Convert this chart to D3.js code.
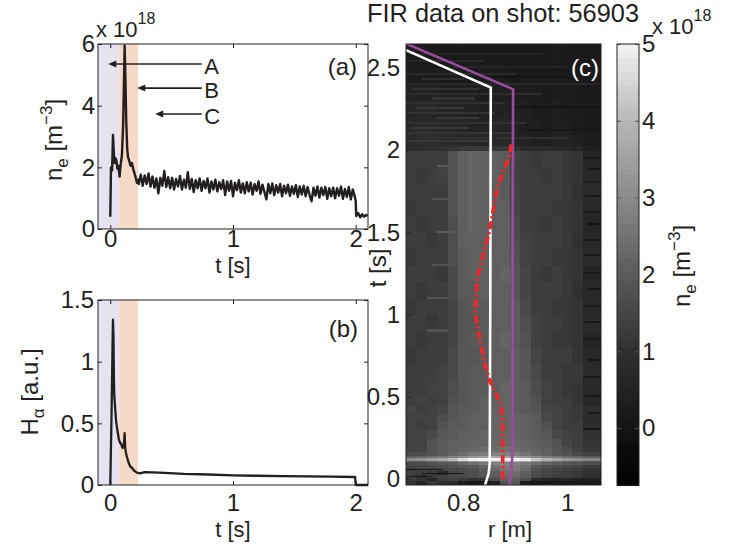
<!DOCTYPE html>
<html>
<head>
<meta charset="utf-8">
<title>FIR data on shot 56903</title>
<script src="https://d3js.org/d3.v7.min.js"></script>
<style>
  body { margin: 0; background: #fff; }
  svg { font-family: "Liberation Sans", Arial, Helvetica, sans-serif; }
  .tick text { font-size: 24px; font-family: "Liberation Sans", Arial, Helvetica, sans-serif; fill: #231f20; }
  .lbl { font-size: 24px; fill: #231f20; }
  .ttl { font-size: 22px; fill: #231f20; }
</style>
</head>
<body>
<svg id="fig" width="734" height="545"></svg>
<script>
// ---- data ----
// (a) line-averaged density, 1e18 m^-3
var neEarly = [[0.000,0.40],[0.006,2.00],[0.015,1.90],[0.022,3.05],[0.030,2.40],[0.035,2.14],
  [0.042,2.30],[0.050,2.22],[0.058,1.95],[0.066,2.05],[0.076,1.70],[0.085,2.10],[0.095,2.40],
  [0.105,3.40],[0.117,5.95],[0.124,4.80],[0.130,3.50],[0.138,2.60],[0.144,2.35],[0.155,2.20],
  [0.165,2.05],[0.176,2.14],[0.190,1.90],[0.205,1.70],[0.217,1.50],[0.226,1.60]]
var neNoise = [[0.232,1.46],[0.248,1.76],[0.264,1.40],[0.280,1.74],[0.296,1.46],[0.312,1.80],
  [0.328,1.38],[0.344,1.70],[0.360,1.34],[0.376,1.64],[0.392,1.16],[0.408,1.66],[0.424,1.40],
  [0.440,1.88],[0.456,1.36],[0.472,1.68],[0.488,1.32],[0.504,1.66],[0.520,1.28],[0.536,1.62],
  [0.552,1.38],[0.568,1.72],[0.584,1.28],[0.600,1.60],[0.616,1.34],[0.632,1.84],[0.648,1.30],
  [0.664,1.62],[0.680,1.20],[0.696,1.58],[0.712,1.32],[0.728,1.64],[0.744,1.24],[0.760,1.56],
  [0.776,1.32],[0.792,1.64],[0.808,1.18],[0.824,1.54],[0.840,1.28],[0.856,1.60],[0.872,1.22],
  [0.888,1.52],[0.904,1.30],[0.920,1.58],[0.936,1.10],[0.952,1.54],[0.968,1.24],[0.984,1.56],
  [1.000,1.06],[1.016,1.50],[1.032,1.26],[1.048,1.58],[1.064,1.18],[1.080,1.48],[1.096,1.16],
  [1.112,1.52],[1.128,1.22],[1.144,1.50],[1.160,1.12],[1.176,1.46],[1.192,1.24],[1.208,1.54],
  [1.224,1.14],[1.240,1.44],[1.256,1.20],[1.272,0.96],[1.288,1.46],[1.304,1.16],[1.320,1.48],
  [1.336,1.10],[1.352,1.42],[1.368,1.18],[1.384,1.46],[1.400,1.06],[1.416,1.40],[1.432,1.16],
  [1.448,1.44],[1.464,1.08],[1.480,1.38],[1.496,1.14],[1.512,1.42],[1.528,1.04],[1.544,1.38],
  [1.560,1.12],[1.576,1.40],[1.592,1.06],[1.608,1.36],[1.624,1.10],[1.640,0.90],[1.656,1.34],
  [1.672,1.08],[1.688,1.38],[1.704,1.02],[1.720,1.34],[1.736,1.10],[1.752,1.36],[1.768,0.98],
  [1.784,1.32],[1.800,1.06],[1.816,1.34],[1.832,1.00],[1.848,1.32],[1.864,1.08],[1.880,1.38],
  [1.896,0.98],[1.912,1.30],[1.928,1.04],[1.944,1.36],[1.960,0.96],[1.976,1.28],[1.992,1.06],
  [2.000,0.90],[2.004,0.42],[2.020,0.52],[2.036,0.38],[2.052,0.48],[2.068,0.40],[2.084,0.46],
  [2.096,0.42]]

// (b) H-alpha, a.u.
var haTrace = [[0.000,0.00],[0.010,0.55],[0.018,1.10],[0.022,1.34],[0.026,1.20],[0.030,0.85],
  [0.033,0.72],[0.040,0.62],[0.047,0.52],[0.054,0.47],[0.062,0.42],[0.070,0.37],[0.081,0.34],
  [0.090,0.33],[0.100,0.30],[0.108,0.31],[0.113,0.36],[0.117,0.42],[0.122,0.30],[0.128,0.26],
  [0.138,0.22],[0.150,0.18],[0.163,0.15],[0.176,0.14],[0.195,0.115],[0.217,0.10],[0.240,0.095],
  [0.280,0.105],[0.400,0.10],[0.600,0.09],[0.800,0.085],[1.000,0.078],[1.200,0.075],
  [1.400,0.072],[1.600,0.07],[1.800,0.068],[1.995,0.065],[2.000,0.0],[2.100,0.0]]

// shaded phases and arrows in (a)
var phaseEdges = [-0.1, 0.072, 0.227]
var arrowLabels = ["A", "B", "C"]
var arrowLevel = [5.35, 4.57, 3.73]
var arrowTip = [-0.016, 0.22, 0.366]
var arrowTail = 0.745

// (c) FIR profile map, 1e18 m^-3 ; rows bottom -> top
var rEdges = [0.69,0.71,0.73,0.75,0.77,0.79,0.81,0.83,0.85,0.87,0.89,0.91,0.93,0.95,0.97,0.99,1.01,1.03,1.065]
var tEdges = [-0.035,-0.01,0.01,0.03,0.05,0.07,0.09,0.105,0.115,0.13,0.145,0.165,0.2,0.25,0.3,0.35,0.4,
  0.45,0.5,0.6,0.7,0.8,0.9,1.0,1.1,1.2,1.3,1.4,1.5,1.6,1.7,1.8,1.9,2.0,2.03,2.1,2.2,2.3,2.4,2.5,2.645]
var neMap = [
  [1.1,0.6,1.2,0.9,0.9,0.2,0.1,0.1,0.4,1.8,1.9,0.3,0.2,0.1,0.2,0.1,0.2,0.1],
  [1.3,1.1,0.6,1.3,1.4,1.2,1.0,1.1,1.7,2.1,2.1,1.7,0.7,0.6,0.5,0.6,0.4,0.4],
  [1.3,0.8,1.3,1.4,1.5,1.6,1.7,1.8,2.0,2.3,2.3,2.0,1.6,1.4,1.3,1.3,1.2,0.9],
  [1.4,1.3,1.2,0.7,1.5,1.6,1.7,1.9,2.1,2.4,2.4,2.1,1.7,1.5,1.4,1.3,1.2,1.0],
  [1.3,1.4,1.4,1.5,1.6,1.7,1.8,2.0,2.3,2.6,2.6,2.3,1.8,1.6,1.5,1.4,1.3,1.1],
  [1.5,1.5,1.6,1.7,1.8,1.9,2.0,2.2,2.5,2.7,2.7,2.4,2.0,1.8,1.7,1.6,1.5,1.3],
  [1.6,1.7,1.8,1.9,2.0,2.2,2.4,2.6,2.8,2.9,2.8,2.6,2.4,2.2,2.0,1.9,1.8,1.7],
  [2.0,2.1,2.3,2.5,2.7,3.0,3.3,3.6,3.8,3.9,3.8,3.5,3.1,2.8,2.5,2.3,2.2,2.0],
  [3.0,3.2,3.4,3.7,4.1,4.6,5.0,5.0,5.0,5.0,5.0,4.8,4.3,3.9,3.6,3.3,3.1,2.9],
  [2.1,2.2,2.4,2.6,2.8,3.0,3.3,3.5,3.6,3.6,3.5,3.3,3.0,2.7,2.5,2.3,2.2,2.0],
  [1.6,1.7,1.8,2.0,2.2,2.4,2.6,2.7,2.8,2.8,2.7,2.5,2.3,2.1,1.9,1.8,1.6,1.4],
  [1.4,1.5,1.8,2.0,2.1,2.2,2.3,2.4,2.4,2.5,2.4,2.3,2.2,2.1,1.9,1.7,1.4,1.2],
  [1.4,1.4,1.8,2.0,2.1,2.1,2.2,2.2,2.3,2.3,2.3,2.2,2.1,2.0,1.8,1.5,1.3,1.1],
  [1.4,1.4,1.6,1.9,2.0,2.1,2.1,2.2,2.2,2.3,2.2,2.1,2.0,1.9,1.6,1.4,1.3,1.0],
  [1.4,1.3,1.4,1.8,2.0,2.0,2.1,2.1,2.2,2.2,2.2,2.1,2.0,1.8,1.4,1.3,1.3,0.9],
  [1.4,1.4,1.4,1.7,1.9,2.0,2.1,2.1,2.2,2.2,2.2,2.1,2.0,1.6,1.4,1.3,1.2,0.8],
  [1.5,1.3,1.4,1.5,1.9,2.0,2.0,2.1,2.2,2.2,2.1,2.0,1.9,1.5,1.4,1.3,1.2,0.9],
  [1.3,1.4,1.3,1.4,1.8,1.9,2.0,2.1,2.1,2.2,2.1,2.0,1.8,1.4,1.3,1.3,1.1,0.7],
  [1.3,1.3,1.4,1.4,1.7,1.9,2.0,2.0,2.1,2.2,2.1,2.0,1.7,1.4,1.3,1.2,1.1,0.7],
  [1.3,1.3,1.3,1.4,1.6,1.9,2.0,2.0,2.1,2.1,2.1,1.9,1.6,1.3,1.3,1.2,1.2,0.8],
  [1.2,1.3,1.3,1.3,1.6,1.9,1.9,2.0,2.1,2.1,2.1,1.9,1.5,1.3,1.3,1.3,1.1,0.7],
  [1.3,1.2,1.3,1.3,1.5,1.9,2.0,2.0,2.1,2.2,2.0,1.8,1.4,1.3,1.2,1.2,1.1,0.6],
  [1.3,1.3,1.2,1.3,1.5,1.9,1.9,2.0,2.1,2.1,2.0,1.7,1.4,1.3,1.3,1.2,1.1,0.8],
  [1.2,1.3,1.3,1.3,1.5,1.9,2.0,2.0,2.1,2.1,2.0,1.6,1.3,1.3,1.2,1.2,1.1,0.7],
  [1.3,1.2,1.3,1.3,1.6,2.0,2.0,2.1,2.1,2.1,1.9,1.5,1.3,1.3,1.3,1.2,1.0,0.7],
  [1.3,1.3,1.3,1.2,1.6,2.0,2.1,2.1,2.1,2.2,1.9,1.5,1.3,1.2,1.3,1.2,1.1,0.6],
  [1.2,1.3,1.3,1.3,1.7,2.0,2.1,2.1,2.1,2.1,1.8,1.4,1.3,1.3,1.2,1.2,1.1,0.8],
  [1.3,1.3,1.2,1.3,1.7,2.1,2.1,2.1,2.1,2.1,1.7,1.4,1.3,1.3,1.3,1.2,1.0,0.7],
  [1.3,1.2,1.3,1.3,1.7,2.1,2.2,2.1,2.1,2.1,1.6,1.3,1.3,1.2,1.3,1.2,1.1,0.6],
  [1.2,1.3,1.3,1.3,1.8,2.1,2.2,2.1,2.1,2.1,1.5,1.3,1.3,1.3,1.2,1.2,1.1,0.7],
  [1.3,1.3,1.3,1.3,1.8,2.1,2.2,2.1,2.1,2.0,1.5,1.3,1.3,1.3,1.3,1.2,1.0,0.8],
  [1.3,1.2,1.3,1.4,1.8,2.1,2.2,2.1,2.1,2.0,1.4,1.3,1.3,1.2,1.3,1.2,1.1,0.7],
  [1.3,1.3,1.3,1.3,1.8,2.1,2.2,2.1,2.1,2.0,1.4,1.3,1.2,1.3,1.3,1.2,1.1,0.6],
  [0.9,0.9,1.0,1.0,1.1,1.2,1.2,1.2,1.2,1.2,1.0,0.8,0.8,0.8,0.7,0.7,0.6,0.4],
  [0.8,0.9,0.9,0.8,0.8,0.7,0.7,0.6,0.7,0.7,0.6,0.5,0.4,0.4,0.5,0.5,0.4,0.3],
  [0.7,0.8,0.8,0.7,0.7,0.6,0.5,0.5,0.6,0.6,0.5,0.4,0.4,0.3,0.4,0.4,0.3,0.2],
  [0.6,0.7,0.7,0.6,0.6,0.5,0.5,0.4,0.5,0.5,0.4,0.4,0.3,0.3,0.4,0.3,0.3,0.2],
  [0.5,0.5,0.5,0.4,0.4,0.4,0.4,0.3,0.4,0.4,0.3,0.3,0.3,0.2,0.3,0.3,0.2,0.2],
  [0.3,0.3,0.3,0.3,0.3,0.3,0.2,0.3,0.3,0.3,0.2,0.2,0.2,0.2,0.2,0.2,0.2,0.2],
  [0.3,0.2,0.2,0.2,0.2,0.2,0.2,0.2,0.2,0.2,0.2,0.2,0.2,0.2,0.3,0.2,0.2,0.2]
]
// thin horizontal streaks on top of the map: [t0, t1, r0, r1, value]
var streaks = [
  [2.58,2.59,0.70,0.95,0.6],[2.54,2.55,0.69,0.84,0.7],[2.50,2.51,0.78,1.0,0.6],[2.46,2.47,0.69,0.9,0.8],
  [2.43,2.44,0.72,0.80,0.9],[2.40,2.41,0.69,1.06,0.7],[2.37,2.38,0.70,0.83,1.0],[2.34,2.35,0.69,0.95,0.9],
  [2.31,2.32,0.74,0.82,1.1],[2.28,2.29,0.69,0.88,1.0],[2.25,2.26,0.71,0.80,1.2],[2.22,2.23,0.69,0.86,1.1],
  [2.19,2.20,0.75,0.83,1.2],[2.16,2.17,0.69,0.92,1.0],[2.13,2.14,0.70,0.81,1.2],[2.10,2.11,0.69,0.90,1.1],
  [2.07,2.08,0.72,1.0,1.0],[2.05,2.06,0.69,0.85,1.2],[2.44,2.45,0.86,1.0,0.0],[2.26,2.27,0.90,1.065,0.0],
  [2.12,2.13,0.92,1.065,0.1],
  [1.95,1.96,1.03,1.065,0.2],[1.88,1.89,1.04,1.065,0.1],[1.80,1.81,1.03,1.065,0.3],[1.72,1.73,1.035,1.065,0.1],
  [1.62,1.63,1.03,1.065,0.2],[1.55,1.56,1.04,1.065,0.0],[1.45,1.46,1.03,1.065,0.3],[1.36,1.37,1.035,1.065,0.1],
  [1.25,1.26,1.03,1.065,0.2],[1.15,1.16,1.04,1.065,0.1],[1.05,1.06,1.03,1.065,0.2],[0.95,0.96,1.035,1.065,0.1],
  [0.85,0.86,1.03,1.065,0.3],[0.72,0.73,1.04,1.065,0.1],[0.62,0.63,1.03,1.065,0.2],[0.50,0.51,1.035,1.065,0.1],
  [0.40,0.41,1.04,1.065,0.2],[0.30,0.31,1.03,1.065,0.1],
  [1.90,1.91,0.75,0.78,1.9],[1.70,1.71,0.74,0.78,1.8],[1.50,1.51,0.75,0.79,1.9],[1.30,1.31,0.74,0.78,1.8],
  [1.10,1.11,0.73,0.77,1.8],[0.90,0.91,0.73,0.77,1.8],
  [0.06,0.065,0.69,0.76,0.3],[0.035,0.04,0.72,0.80,0.2],[0.015,0.02,0.69,0.74,0.3]
]
// overlaid traces on (c): [r, t]
var whiteLine = [[0.842,-0.035],[0.849,0.036],[0.851,0.1],[0.852,1.0],[0.853,2.38],[0.69,2.608]]
var purpleLine = [[0.888,-0.035],[0.893,0.055],[0.895,0.2],[0.895,1.5],[0.896,2.37],[0.69,2.647]]
var redLine = [[0.876,0.0],[0.876,0.36],[0.872,0.46],[0.851,0.6],[0.840,0.72],[0.823,1.01],
  [0.8275,1.23],[0.850,1.5],[0.866,1.78],[0.8885,1.96],[0.893,2.04]]

var xTicks = [0, 1, 2]
var neTicks = [0, 2, 4, 6]
var haTicks = [0, 0.5, 1, 1.5]
var rTicks = [0.8, 1]
var tTicks = [0, 0.5, 1, 1.5, 2, 2.5]
var cbTicks = [0, 1, 2, 3, 4, 5]

// ---- drawing ----
var ink = "#231f20"
var svg = d3.select("#fig")
var fmt = function(d){ return String(d) }

var xA = d3.scaleLinear().domain([-0.1, 2.1]).range([98, 368])
var yA = d3.scaleLinear().domain([0, 6]).range([229, 44])
var yB = d3.scaleLinear().domain([0, 1.5]).range([485, 300])
var xC = d3.scaleLinear().domain([0.69, 1.065]).range([406, 601])
var yC = d3.scaleLinear().domain([-0.035, 2.645]).range([485, 44])
var yCb = d3.scaleLinear().domain([-0.74, 5]).range([485, 44])

var gray = d3.scaleLinear()
    .domain([-0.74, 0, 1, 2, 3, 4, 5])
    .range(["#000000", "#141414", "#303030", "#5a5a5a", "#8a8a8a", "#b6b6b6", "#f4f4f4"])
    .clamp(true)

function axesBox(x, y, xt, yt, padX, padY, labels) {
    var g = svg.append("g").attr("color", ink)
    var xr = x.range(), yr = y.range()
    g.append("g").attr("transform", "translate(0," + yr[0] + ")")
        .call(d3.axisBottom(x).tickValues(xt).tickFormat(labels ? fmt : "").tickSizeInner(-4).tickSizeOuter(0).tickPadding(padX))
    g.append("g").attr("transform", "translate(" + xr[0] + ",0)")
        .call(d3.axisLeft(y).tickValues(yt).tickFormat(labels ? fmt : "").tickSizeInner(-4).tickSizeOuter(0).tickPadding(padY))
    g.append("g").attr("transform", "translate(0," + yr[1] + ")")
        .call(d3.axisTop(x).tickValues(xt).tickFormat("").tickSizeInner(-4).tickSizeOuter(0))
    g.append("g").attr("transform", "translate(" + xr[1] + ",0)")
        .call(d3.axisRight(y).tickValues(yt).tickFormat("").tickSizeInner(-4).tickSizeOuter(0))
    g.selectAll(".domain").remove()
    g.append("rect").attr("x", xr[0]).attr("y", yr[1])
        .attr("width", xr[1] - xr[0]).attr("height", yr[0] - yr[1])
        .attr("fill", "none").attr("stroke", ink).attr("stroke-width", 1)
    return g
}

// shaded phases
var phaseColors = ["#e7e2ef", "#f6d9c7"]
function shade(y) {
    svg.append("g").selectAll("rect").data(d3.pairs(phaseEdges)).join("rect")
        .attr("x", function(d){ return xA(d[0]) })
        .attr("width", function(d){ return xA(d[1]) - xA(d[0]) })
        .attr("y", y.range()[1]).attr("height", y.range()[0] - y.range()[1])
        .attr("fill", function(d, i){ return phaseColors[i] })
}
var neLabel = 'n<tspan dy="6" font-size="17">e</tspan><tspan dy="-6"> [m</tspan><tspan dy="-10" font-size="17">\u22123</tspan><tspan dy="10">]</tspan>'
var expLabel = 'x 10<tspan dy="-13" font-size="16">18</tspan>'

// ---------- panel (a)
shade(yA)
svg.append("path").datum(neEarly.concat(neNoise))
    .attr("d", d3.line().x(function(d){ return xA(d[0]) }).y(function(d){ return yA(d[1]) }))
    .attr("fill", "none").attr("stroke", ink).attr("stroke-width", 2.4).attr("stroke-linejoin", "round")
axesBox(xA, yA, xTicks, neTicks, 1, 3, true)

var arrows = svg.append("g")
arrowLabels.forEach(function(lab, i) {
    var y = yA(arrowLevel[i]), x0 = xA(arrowTip[i]), x1 = xA(arrowTail)
    arrows.append("line").attr("x1", x0 + 5).attr("x2", x1).attr("y1", y).attr("y2", y)
        .attr("stroke", ink).attr("stroke-width", 1.6)
    arrows.append("path").attr("d", "M" + x0 + "," + y + "l8,-3.5v7z").attr("fill", ink)
    arrows.append("text").attr("class", "ttl").attr("x", x1 + 2.5).attr("y", y + 10).text(lab)
})
svg.append("text").attr("class", "lbl").attr("x", 357).attr("y", 75).attr("text-anchor", "end").text("(a)")
svg.append("text").attr("class", "ttl").attr("x", 96).attr("y", 37).html(expLabel)
svg.append("text").attr("class", "ttl").attr("x", xA(1)).attr("y", 273).attr("text-anchor", "middle").text("t [s]")
svg.append("text").attr("class", "lbl").attr("transform", "translate(62,140) rotate(-90)").attr("text-anchor", "middle")
    .html(neLabel)

// ---------- panel (b)
shade(yB)
svg.append("path").datum(haTrace)
    .attr("d", d3.line().x(function(d){ return xA(d[0]) }).y(function(d){ return yB(d[1]) }))
    .attr("fill", "none").attr("stroke", ink).attr("stroke-width", 2.3).attr("stroke-linejoin", "round")
axesBox(xA, yB, xTicks, haTicks, 9, 4, true)
svg.append("text").attr("class", "lbl").attr("x", 358).attr("y", 337).attr("text-anchor", "end").text("(b)")
svg.append("text").attr("class", "ttl").attr("x", xA(1)).attr("y", 537).attr("text-anchor", "middle").text("t [s]")
svg.append("text").attr("class", "lbl").attr("transform", "translate(38,392) rotate(-90)").attr("text-anchor", "middle")
    .html('H<tspan dy="6" font-size="17">\u03b1</tspan><tspan dy="-6"> [a.u.]</tspan>')

// ---------- panel (c)
svg.append("clipPath").attr("id", "clipC").append("rect")
    .attr("x", 406).attr("y", 44).attr("width", 195).attr("height", 441)
var cells = []
neMap.forEach(function(row, i) {
    row.forEach(function(v, j) {
        cells.push({r0: rEdges[j], r1: rEdges[j + 1], t0: tEdges[i], t1: tEdges[i + 1], v: v})
    })
})
streaks.forEach(function(s) { cells.push({t0: s[0], t1: s[1], r0: s[2], r1: s[3], v: s[4]}) })
var mapG = svg.append("g").attr("clip-path", "url(#clipC)")
mapG.selectAll("rect").data(cells).join("rect")
    .attr("x", function(d){ return xC(d.r0) })
    .attr("y", function(d){ return yC(d.t1) })
    .attr("width", function(d){ return xC(d.r1) - xC(d.r0) + 0.4 })
    .attr("height", function(d){ return Math.max(1.2, yC(d.t0) - yC(d.t1) + 0.4) })
    .attr("fill", function(d){ return gray(d.v) })
    .attr("shape-rendering", "crispEdges")

var lineC = d3.line().x(function(d){ return xC(d[0]) }).y(function(d){ return yC(d[1]) })
mapG.append("path").datum(whiteLine).attr("d", lineC).attr("fill", "none").attr("stroke", "#ffffff").attr("stroke-width", 2.6)
mapG.append("path").datum(purpleLine).attr("d", lineC).attr("fill", "none").attr("stroke", "#9a4d9e").attr("stroke-width", 2.6)
mapG.append("path").datum(redLine).attr("d", lineC).attr("fill", "none").attr("stroke", "#f2262a")
    .attr("stroke-width", 3.6).attr("stroke-dasharray", "8,3,2,3")

axesBox(xC, yC, rTicks, tTicks, 9, 6, true)
svg.append("text").attr("class", "lbl").attr("x", 599).attr("y", 76).attr("text-anchor", "end").style("fill", "#ffffff").text("(c)")
svg.append("text").attr("class", "ttl").attr("x", 510).attr("y", 537).attr("text-anchor", "middle").text("r [m]")
svg.append("text").attr("class", "lbl").attr("transform", "translate(386,268) rotate(-90)").attr("text-anchor", "middle").text("t [s]")
svg.append("text").attr("class", "lbl").attr("x", 367).attr("y", 22).style("font-size", "25px")
    .attr("textLength", 272).attr("lengthAdjust", "spacingAndGlyphs").text("FIR data on shot: 56903")

// colorbar
var cbLevels = d3.range(64).map(function(i){ return -0.74 + i * 5.74 / 64 })
svg.append("g").selectAll("rect").data(cbLevels).join("rect")
    .attr("x", 617).attr("width", 22)
    .attr("y", function(d){ return yCb(d + 5.74 / 64) })
    .attr("height", function(d){ return yCb(d) - yCb(d + 5.74 / 64) + 0.5 })
    .attr("fill", function(d){ return gray(d + 2.87 / 64) })
    .attr("shape-rendering", "crispEdges")
var cbG = svg.append("g").attr("color", "#555")
cbG.append("g").attr("transform", "translate(639,0)")
    .call(d3.axisRight(yCb).tickValues(cbTicks).tickFormat(fmt).tickSizeInner(-4).tickSizeOuter(0).tickPadding(3))
cbG.append("g").attr("transform", "translate(617,0)")
    .call(d3.axisLeft(yCb).tickValues(cbTicks).tickFormat("").tickSizeInner(-4).tickSizeOuter(0))
cbG.selectAll(".domain").remove()
svg.append("rect").attr("x", 617).attr("y", 44).attr("width", 22).attr("height", 441)
    .attr("fill", "none").attr("stroke", ink)
svg.append("text").attr("class", "ttl").attr("x", 652).attr("y", 34).html(expLabel)
svg.append("text").attr("class", "lbl").attr("transform", "translate(690,266) rotate(-90)").attr("text-anchor", "middle")
    .html(neLabel)
</script>
</body>
</html>
